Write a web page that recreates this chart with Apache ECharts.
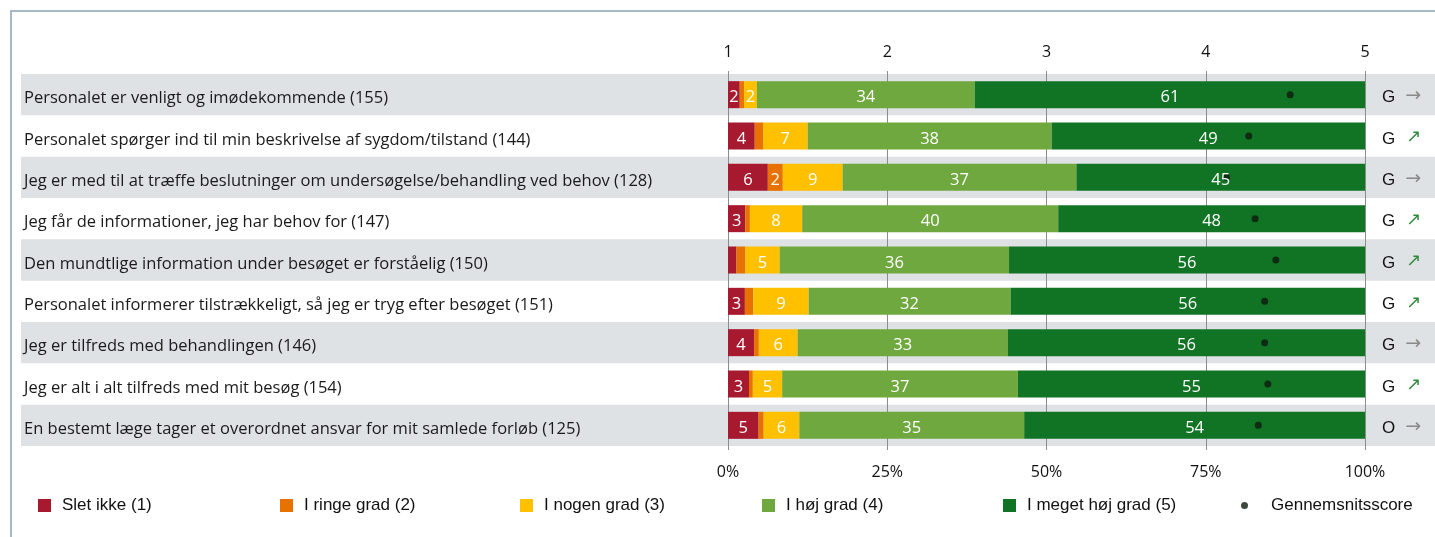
<!DOCTYPE html>
<html>
<head>
<meta charset="utf-8">
<script src="https://cdn.jsdelivr.net/npm/echarts/dist/echarts.min.js"></script>
<style>
html,body{margin:0;padding:0;background:#fff;}
#c{width:1435px;height:537px;}
</style>
</head>
<body>
<div id="c"></div>
<script>
const categories = [
  'Personalet er venligt og imødekommende (155)',
  'Personalet spørger ind til min beskrivelse af sygdom/tilstand (144)',
  'Jeg er med til at træffe beslutninger om undersøgelse/behandling ved behov (128)',
  'Jeg får de informationer, jeg har behov for (147)',
  'Den mundtlige information under besøget er forståelig (150)',
  'Personalet informerer tilstrækkeligt, så jeg er tryg efter besøget (151)',
  'Jeg er tilfreds med behandlingen (146)',
  'Jeg er alt i alt tilfreds med mit besøg (154)',
  'En bestemt læge tager et overordnet ansvar for mit samlede forløb (125)'
];
const seriesNames = ['Slet ikke (1)', 'I ringe grad (2)', 'I nogen grad (3)', 'I høj grad (4)', 'I meget høj grad (5)'];
const sletIkke   = [1.84, 4.2, 6.25, 2.7, 1.32, 2.65, 4.1, 3.3, 4.8];
const iRinge     = [0.7, 1.3, 2.35, 0.74, 1.4, 1.3, 0.74, 0.6, 0.8];
const iNogen     = [2.0, 7.0, 9.4, 8.2, 5.4, 8.7, 6.1, 4.6, 5.6];
const iHoej      = [34.2, 38.3, 36.7, 40.2, 36.0, 31.7, 33.0, 37.0, 35.3];
const iMegetHoej = [61.26, 49.2, 45.3, 48.16, 55.88, 55.65, 56.06, 54.5, 53.5];
const meanScore  = [4.53, 4.27, 4.13, 4.31, 4.44, 4.37, 4.37, 4.39, 4.33];
const grades     = ['G', 'G', 'G', 'G', 'G', 'G', 'G', 'G', 'O'];
const trends     = ['→', '↗', '→', '↗', '↗', '↗', '→', '↗', '→'];
const pctTicks   = [0, 25, 50, 75, 100];
const scoreTicks = [1, 2, 3, 4, 5];
const meanName = 'Gennemsnitsscore';

const colors = ['#a6192e', '#e87200', '#ffc000', '#6fa83e', '#117324'];
const values = [sletIkke, iRinge, iNogen, iHoej, iMegetHoej];

const chart = echarts.init(document.getElementById('c'), null, {renderer: 'canvas'});

const mainFont = 'Open Sans';
const GRID_TOP = 74, GRID_H = 372;

const barSeries = values.map((arr, i) => ({
  name: seriesNames[i],
  type: 'bar',
  stack: 'main',
  xAxisIndex: 0,
  yAxisIndex: 0,
  barWidth: 27,
  barGap: '-100%',
  z: 2,
  itemStyle: {color: colors[i]},
  emphasis: {disabled: true},
  label: {show: false},
  data: arr
}));

const labelSeries = values.map((arr, i) => ({
  name: 'lab' + i,
  type: 'bar',
  stack: 'labels',
  xAxisIndex: 0,
  yAxisIndex: 0,
  barWidth: 27,
  barGap: '-100%',
  z: 5,
  itemStyle: {color: 'rgba(0,0,0,0)'},
  emphasis: {disabled: true},
  label: {
    show: true,
    position: 'inside',
    offset: [0, 3],
    color: '#fff',
    fontFamily: mainFont,
    fontSize: 16.5,
    formatter: p => (p.value >= 1.5 ? String(Math.round(p.value)) : '')
  },
  data: arr
}));

const legendPos = [38, 280, 520, 762, 1003];
const legends = seriesNames.map((n, i) => ({
  left: legendPos[i],
  top: 497,
  padding: 0,
  icon: 'rect',
  itemWidth: 13,
  itemHeight: 13,
  selectedMode: false,
  data: [n],
  textStyle: {fontFamily: 'Liberation Sans', fontSize: 17, color: '#111', padding: [0, 0, 0, 6]}
}));
legends.push({
  left: 1241,
  top: 497,
  padding: 0,
  icon: 'circle',
  itemWidth: 7,
  itemHeight: 13,
  selectedMode: false,
  data: [meanName],
  textStyle: {fontFamily: 'Liberation Sans', fontSize: 17, color: '#111', padding: [0, 0, 0, 18]}
});

const option = {
  animation: false,
  backgroundColor: '#fff',
  graphic: [
    {type: 'line', shape: {x1: 10, y1: 11, x2: 1435, y2: 11}, style: {stroke: '#a5b9c9', lineWidth: 2}, silent: true},
    {type: 'line', shape: {x1: 11, y1: 10, x2: 11, y2: 537}, style: {stroke: '#a5b9c9', lineWidth: 2}, silent: true}
  ],
  legend: legends,
  grid: [
    {left: 728, width: 637, top: GRID_TOP, height: GRID_H},
    {left: 21, right: 0, top: GRID_TOP, height: GRID_H},
    {left: 21, right: 0, top: GRID_TOP + 4, height: GRID_H}
  ],
  xAxis: [
    {
      type: 'value', gridIndex: 0, position: 'bottom', min: 0, max: 100, interval: 25, z: 1,
      axisLine: {show: false},
      axisTick: {show: true, length: 4, lineStyle: {color: '#8c8c8c', width: 1}},
      splitLine: {show: true, lineStyle: {color: '#8c8c8c', width: 1}},
      axisLabel: {
        margin: 18, fontFamily: mainFont, fontSize: 16, color: '#111',
        formatter: v => (pctTicks.indexOf(v) >= 0 ? v + '%' : '')
      }
    },
    {
      type: 'value', gridIndex: 0, position: 'top', min: 1, max: 5, interval: 1, z: 1,
      axisLine: {show: false},
      axisTick: {show: true, length: 3, lineStyle: {color: '#8c8c8c', width: 1}},
      splitLine: {show: false},
      axisLabel: {
        margin: 14, fontFamily: mainFont, fontSize: 16, color: '#111',
        formatter: v => (scoreTicks.indexOf(v) >= 0 ? String(v) : '')
      }
    },
    {type: 'value', gridIndex: 1, show: false, min: 0, max: 1},
    {type: 'value', gridIndex: 2, show: false, min: 0, max: 1}
  ],
  yAxis: [
    {
      type: 'category', gridIndex: 0, position: 'right', inverse: true, data: categories, z: 1,
      axisLine: {show: false}, axisTick: {show: false}, splitLine: {show: false},
      axisLabel: {
        margin: 17,
        padding: [6, 0, 0, 0],
        formatter: (v, idx) => '{g|' + grades[idx] + '}{' + (trends[idx] === '→' ? 'a' : 'u') + '|' + trends[idx] + '}',
        rich: {
          g: {fontFamily: 'Liberation Sans', fontSize: 17, color: '#111'},
          a: {fontFamily: 'DejaVu Sans', fontSize: 19, color: '#8a8a8a', padding: [0, 0, 3, 10]},
          u: {fontFamily: 'DejaVu Sans', fontSize: 18, color: '#2e8b3e', padding: [0, 0, 3, 11]}
        }
      }
    },
    {
      type: 'category', gridIndex: 1, position: 'left', inverse: true, data: categories, z: 0,
      axisLine: {show: false}, axisTick: {show: false}, splitLine: {show: false},
      splitArea: {show: true, areaStyle: {color: ['#dee2e5', 'rgba(255,255,255,0)']}},
      axisLabel: {show: false}
    },
    {
      type: 'category', gridIndex: 2, position: 'left', inverse: true, data: categories, z: 3,
      axisLine: {show: false}, axisTick: {show: false}, splitLine: {show: false},
      axisLabel: {inside: true, margin: 3, fontFamily: mainFont, fontSize: 16.5, color: '#1a1a1a'}
    }
  ],
  series: [
    ...barSeries,
    {
      name: meanName,
      type: 'scatter',
      xAxisIndex: 1,
      yAxisIndex: 0,
      z: 4,
      symbol: 'circle',
      symbolSize: 7,
      itemStyle: {color: '#0d1a0d'},
      emphasis: {disabled: true},
      data: meanScore.map((m, i) => [m, i])
    },
    ...labelSeries
  ]
};
chart.setOption(option);
</script>
</body>
</html>
